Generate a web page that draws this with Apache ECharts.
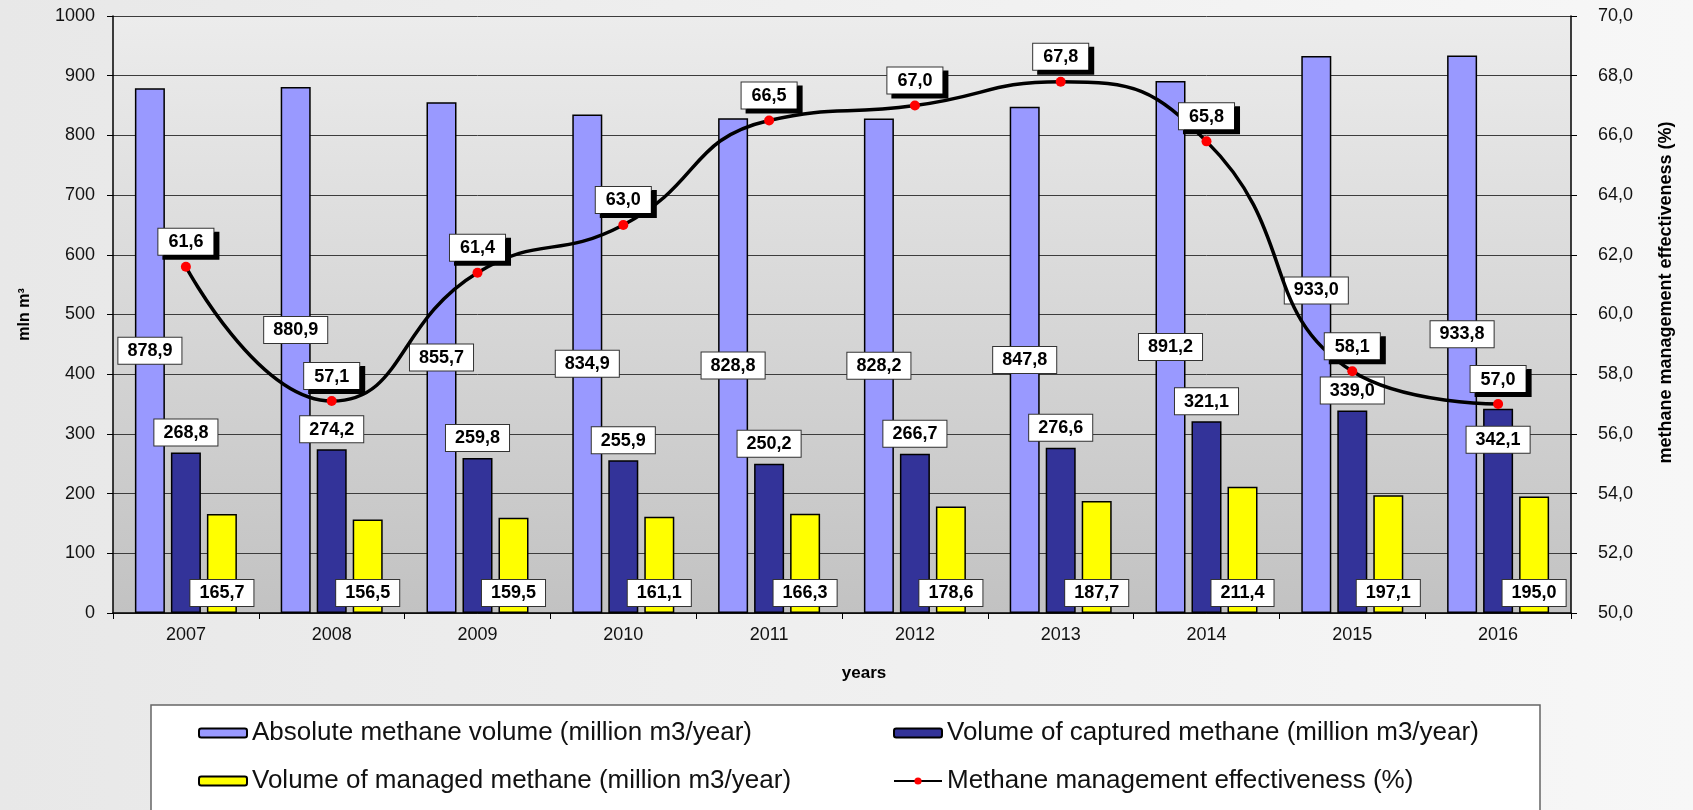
<!DOCTYPE html>
<html>
<head>
<meta charset="utf-8">
<script src="https://cdn.jsdelivr.net/npm/echarts@6/dist/echarts.min.js"></script>
<style>
    html, body { margin: 0; padding: 0; }
    #chart { width: 1693px; height: 810px; }
</style>
</head>
<body>
<div id="chart"></div>
<script>
// data
const years = ['2007', '2008', '2009', '2010', '2011', '2012', '2013', '2014', '2015', '2016'];
const absoluteVolume = [878.9, 880.9, 855.7, 834.9, 828.8, 828.2, 847.8, 891.2, 933.0, 933.8];
const capturedVolume = [268.8, 274.2, 259.8, 255.9, 250.2, 266.7, 276.6, 321.1, 339.0, 342.1];
const managedVolume = [165.7, 156.5, 159.5, 161.1, 166.3, 178.6, 187.7, 211.4, 197.1, 195.0];
const effectiveness = [61.6, 57.1, 61.4, 63.0, 66.5, 67.0, 67.8, 65.8, 58.1, 57.0];

const names = [
    'Absolute methane volume (million m3/year)',
    'Volume of captured methane (million m3/year)',
    'Volume of managed methane (million m3/year)',
    'Methane management effectiveness (%)'
];

// a few labels were moved by hand in the original
const absLabelShift = { 1: -20, 8: -44 };
const capturedInside = [9];

const font = 'Liberation Sans, Arial, sans-serif';
const comma = v => Number(v).toFixed(1).replace('.', ',');

let boxLabel = {
    show: true,
    color: '#000',
    fontFamily: font,
    fontWeight: 'bold',
    fontSize: 18,
    lineHeight: 19,
    backgroundColor: '#fff',
    borderColor: '#333',
    borderWidth: 1,
    padding: [4, 9, 3, 9],
    formatter: p => comma(p.value)
};

let legendText = { fontSize: 26, color: '#111', fontFamily: font };

let chart = echarts.init(document.getElementById('chart'));

let option = {
    backgroundColor: {
        type: 'linear', x: 0, y: 0, x2: 1, y2: 0,
        colorStops: [{ offset: 0, color: '#e8e8e8' }, { offset: 1, color: '#f7f7f7' }]
    },
    textStyle: { fontFamily: font },
    animation: false,
    grid: {
        left: 113, right: 122, top: 16, bottom: 197,
        show: true,
        borderWidth: 0,
        backgroundColor: {
            type: 'linear', x: 0, y: 0, x2: 0, y2: 1,
            colorStops: [{ offset: 0, color: '#ececec' }, { offset: 1, color: '#c2c2c2' }]
        }
    },
    graphic: [{
        type: 'rect',
        z: 0,
        shape: { x: 151, y: 705, width: 1389, height: 120 },
        style: { fill: '#fff', stroke: '#666', lineWidth: 1.5 }
    }],
    legend: [{
        data: [names[0], names[2]],
        orient: 'vertical',
        left: 193, top: 715,
        itemWidth: 48, itemHeight: 9,
        itemGap: 22,
        textStyle: legendText
    }, {
        data: [names[1], names[3]],
        orient: 'vertical',
        left: 888, top: 715,
        itemWidth: 48, itemHeight: 9,
        itemGap: 22,
        textStyle: legendText
    }],
    xAxis: {
        type: 'category',
        data: years,
        name: 'years',
        nameLocation: 'middle',
        nameGap: 52,
        nameTextStyle: { fontWeight: 'bold', fontSize: 17, color: '#000', padding: [0, 0, 0, 44] },
        axisLine: { lineStyle: { color: '#000', width: 1.5 } },
        axisTick: { show: true, length: 6, lineStyle: { color: '#000' } },
        axisLabel: { fontSize: 18, color: '#111', margin: 13 }
    },
    yAxis: [{
        type: 'value',
        min: 0, max: 1000, interval: 100,
        name: 'mln m³',
        nameLocation: 'middle',
        nameRotate: 90,
        nameGap: 80,
        nameTextStyle: { fontWeight: 'bold', fontSize: 16, color: '#000' },
        axisLine: { show: true, lineStyle: { color: '#000', width: 1.5 } },
        axisTick: { show: true, length: 6, lineStyle: { color: '#000' } },
        axisLabel: { fontSize: 18, color: '#111', margin: 18, formatter: v => String(v) },
        splitLine: { lineStyle: { color: '#3c3c3c', width: 1 } }
    }, {
        type: 'value',
        min: 50, max: 70, interval: 2,
        name: 'methane management effectiveness (%)',
        nameLocation: 'middle',
        nameRotate: 90,
        nameGap: 86,
        nameTextStyle: { fontWeight: 'bold', fontSize: 18, color: '#000', padding: [0, 0, 0, 44] },
        axisLine: { show: true, lineStyle: { color: '#000', width: 1.5 } },
        axisTick: { show: true, length: 6, lineStyle: { color: '#000' } },
        axisLabel: { fontSize: 18, color: '#111', margin: 27, formatter: comma },
        splitLine: { show: false }
    }],
    series: [{
        name: names[0],
        type: 'bar',
        barWidth: 30,
        barGap: '20%',
        itemStyle: { color: '#9999ff', borderColor: '#000', borderWidth: 1.5 },
        label: Object.assign({}, boxLabel, { position: 'inside' }),
        data: absoluteVolume.map((v, i) => absLabelShift[i] !== undefined
            ? { value: v, label: { offset: [0, absLabelShift[i]] } } : v)
    }, {
        name: names[1],
        type: 'bar',
        barWidth: 30,
        barGap: '20%',
        itemStyle: { color: '#333399', borderColor: '#000', borderWidth: 1.5 },
        label: Object.assign({}, boxLabel, { position: 'top', distance: 7 }),
        data: capturedVolume.map((v, i) => capturedInside.includes(i)
            ? { value: v, label: { position: 'insideTop', distance: 18 } } : v)
    }, {
        name: names[2],
        type: 'bar',
        barWidth: 30,
        barGap: '20%',
        itemStyle: { color: '#ffff00', borderColor: '#000', borderWidth: 1.5 },
        label: Object.assign({}, boxLabel, { position: 'insideBottom', distance: 7 }),
        data: managedVolume
    }, {
        name: names[3],
        type: 'line',
        yAxisIndex: 1,
        smooth: 0.5,
        z: 5,
        symbol: 'circle',
        symbolSize: 10,
        lineStyle: { color: '#000', width: 3.5 },
        itemStyle: { color: '#ff0000' },
        label: Object.assign({}, boxLabel, {
            position: 'top',
            distance: 7,
            padding: [4, 10, 3, 10],
            shadowColor: '#000',
            shadowBlur: 0,
            shadowOffsetX: 5,
            shadowOffsetY: 4
        }),
        data: effectiveness
    }]
};

chart.setOption(option);
window.addEventListener('resize', function () {
    chart.resize();
});
</script>
</body>
</html>
